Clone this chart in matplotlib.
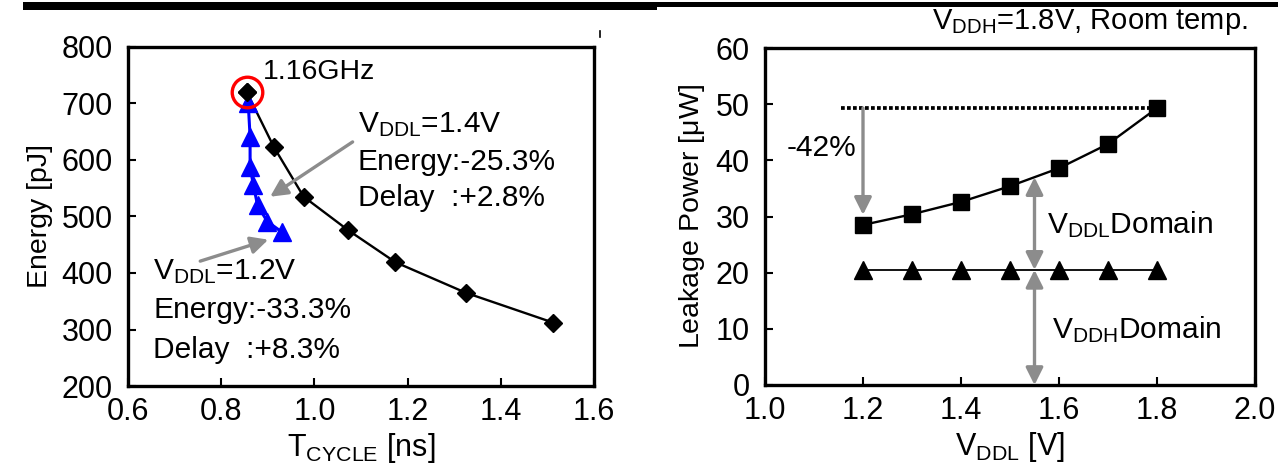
import matplotlib
matplotlib.use("Agg")
import matplotlib.pyplot as plt
from matplotlib.patches import Rectangle
from matplotlib.lines import Line2D
import numpy as np

plt.rcParams["font.family"] = ["Liberation Sans", "DejaVu Sans"]
plt.rcParams["mathtext.fontset"] = "custom"
plt.rcParams["mathtext.rm"] = "Liberation Sans"
plt.rcParams["mathtext.it"] = "Liberation Sans:italic"
plt.rcParams["mathtext.default"] = "regular"

# ---- Energy vs. cycle time ----
tcycle_single = [0.855, 0.913, 0.977, 1.072, 1.174, 1.325, 1.513]   # ns
energy_single = [720, 623, 535, 476, 419, 365, 312]                  # pJ
tcycle_dual = [0.858, 0.862, 0.862, 0.869, 0.878, 0.899, 0.931]      # ns
energy_dual = [701, 641, 588, 556, 520, 491, 472]                    # pJ
energy_xticks = [0.6, 0.8, 1.0, 1.2, 1.4, 1.6]
energy_yticks = [200, 300, 400, 500, 600, 700, 800]

# ---- Leakage power vs. VDDL ----
vddl = [1.2, 1.3, 1.4, 1.5, 1.6, 1.7, 1.8]
leak_total = [28.5, 30.4, 32.6, 35.4, 38.6, 42.9, 49.3]   # uW
leak_vddh = [20.5, 20.5, 20.5, 20.5, 20.5, 20.5, 20.5]     # uW
leak_xticks = [1.0, 1.2, 1.4, 1.6, 1.8, 2.0]
leak_yticks = [0, 10, 20, 30, 40, 50, 60]

W, H = 1278, 475
fig = plt.figure(figsize=(W / 100, H / 100), dpi=100)
fig.patch.set_facecolor("white")

TICK_FS = 22
NOTE_FS = 21.5
XLAB_FS = 22
YLAB_FS = 20.5
GRAY = "#8c8c8c"


def style_axes(ax):
    for s in ax.spines.values():
        s.set_linewidth(2.4)
    ax.tick_params(axis="both", direction="in", length=6, width=1.5,
                   labelsize=TICK_FS, top=False, right=False)
    ax.tick_params(axis="y", pad=11)
    ax.tick_params(axis="x", pad=8)


# Left panel
ax1 = fig.add_axes([128 / W, 1 - 386 / H, (594 - 128) / W, (386 - 47) / H])
style_axes(ax1)
ax1.set_xlim(0.6, 1.6)
ax1.set_ylim(200, 800)
ax1.set_xticks(energy_xticks)
ax1.set_xticklabels([f"{v:.1f}" for v in energy_xticks])
ax1.set_yticks(energy_yticks)
ax1.set_xlabel(r"$T_{CYCLE}$ [ns]", fontsize=XLAB_FS, labelpad=3)
ax1.set_ylabel("Energy [pJ]", fontsize=YLAB_FS, labelpad=6)

ax1.plot(tcycle_single, energy_single, color="black", lw=1.7,
         marker="D", ms=9.5, mfc="black", mec="black", zorder=3)
ax1.plot(tcycle_dual, energy_dual, color="#0000ff", lw=2.2,
         marker="^", ms=13.5, mfc="#0000ff", mec="#0000ff", zorder=4)
ax1.plot(tcycle_single[0], energy_single[0], marker="D", ms=9.5,
         color="black", zorder=5)
ax1.plot(tcycle_single[0], energy_single[0], marker="o", ms=22,
         mfc="none", mec="#ff0000", mew=2.4, zorder=6)

ax1.text(0.889, 756, "1.16GHz", fontsize=20.5, ha="left", va="center")
ax1.text(1.093, 662, r"$V_{DDL}$=1.4V", fontsize=NOTE_FS, ha="left", va="center")
ax1.text(1.093, 597, "Energy:-25.3%", fontsize=NOTE_FS, ha="left", va="center")
ax1.text(1.093, 532, "Delay  :+2.8%", fontsize=NOTE_FS, ha="left", va="center")
ax1.text(0.654, 402, r"$V_{DDL}$=1.2V", fontsize=NOTE_FS, ha="left", va="center")
ax1.text(0.654, 335, "Energy:-33.3%", fontsize=NOTE_FS, ha="left", va="center")
ax1.text(0.654, 264, "Delay  :+8.3%", fontsize=NOTE_FS, ha="left", va="center")

arrow_kw = dict(arrowstyle="-|>", color=GRAY, lw=2.4, mutation_scale=26,
                shrinkA=0, shrinkB=0)
ax1.annotate("", xy=(0.905, 535), xytext=(1.082, 632), arrowprops=arrow_kw)
ax1.annotate("", xy=(0.901, 459), xytext=(0.755, 421), arrowprops=arrow_kw)

# Right panel
ax2 = fig.add_axes([765 / W, 1 - 385 / H, (1255 - 765) / W, (385 - 48) / H])
style_axes(ax2)
ax2.set_xlim(1.0, 2.0)
ax2.set_ylim(0, 60)
ax2.set_xticks(leak_xticks)
ax2.set_xticklabels([f"{v:.1f}" for v in leak_xticks])
ax2.set_yticks(leak_yticks)
ax2.set_xlabel(r"$V_{DDL}$ [V]", fontsize=XLAB_FS, labelpad=3)
ax2.set_ylabel(r"Leakage Power [$\mu$W]", fontsize=YLAB_FS, labelpad=6)

# reference level of the single-supply design
ref_start = 1.155
ax2.plot([ref_start, vddl[-1]], [leak_total[-1], leak_total[-1]],
         color="black", lw=2.7, ls=(0, (1.0, 0.6)), zorder=2)
ax2.plot(vddl, leak_total, color="black", lw=1.7, marker="s", ms=11.5,
         mfc="black", mec="black", zorder=4)
ax2.plot(vddl, leak_vddh, color="black", lw=1.3, marker="^", ms=12.5,
         mfc="black", mec="black", zorder=4)

# reduction arrow
ax2.annotate("", xy=(vddl[0], leak_total[0] + 1.8),
             xytext=(vddl[0], leak_total[-1]), arrowprops=arrow_kw, zorder=3)
ax2.text(1.115, 42.2, "-42%", fontsize=NOTE_FS, ha="center", va="center")

# domain split arrows
split_x = 1.55
top_at_split = float(np.interp(split_x, vddl, leak_total))
both_kw = dict(arrowstyle="<|-|>", color=GRAY, lw=2.4, mutation_scale=26,
               shrinkA=0, shrinkB=0)
ax2.annotate("", xy=(split_x, top_at_split), xytext=(split_x, leak_vddh[0]),
             arrowprops=both_kw, zorder=3)
ax2.annotate("", xy=(split_x, leak_vddh[0]), xytext=(split_x, 0),
             arrowprops=both_kw, zorder=3)
ax2.text(1.575, 28.5, r"$V_{DDL}$Domain", fontsize=NOTE_FS, ha="left", va="center")
ax2.text(1.585, 9.8, r"$V_{DDH}$Domain", fontsize=NOTE_FS, ha="left", va="center")

ax2.text(1.986, 64.6, r"$V_{DDH}$=1.8V, Room temp.", fontsize=21,
         ha="right", va="center", clip_on=False)

# page header rules
fig.add_artist(Rectangle((23 / W, 1 - 10 / H), (657 - 23) / W, 8 / H,
                         transform=fig.transFigure, color="black", lw=0))
fig.add_artist(Rectangle((657 / W, 1 - 7 / H), 1 - 657 / W, 5 / H,
                         transform=fig.transFigure, color="black", lw=0))
fig.add_artist(Line2D([600 / W, 600 / W], [1 - 31 / H, 1 - 37 / H],
                      transform=fig.transFigure, color="black", lw=1.2))

fig.savefig("out.png", dpi=100, facecolor="white")
